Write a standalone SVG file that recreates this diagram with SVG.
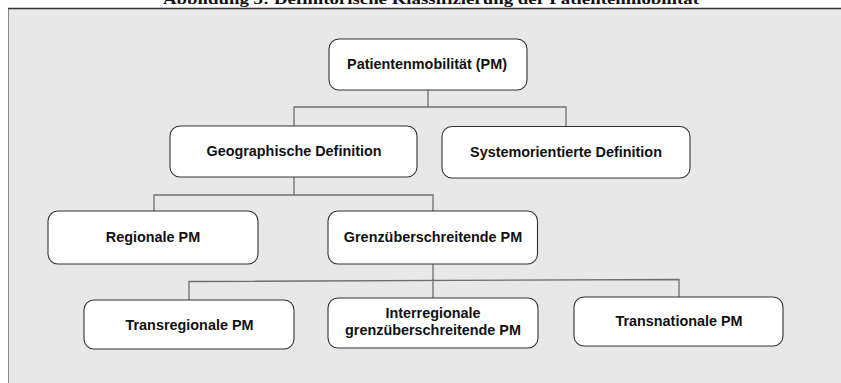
<svg xmlns="http://www.w3.org/2000/svg" width="841" height="383" viewBox="0 0 841 383">
<style>
.box{fill:#ffffff;stroke:#333333;stroke-width:1.1}
.lbl{font-family:"Liberation Sans",Arial,sans-serif;font-weight:bold;font-size:14.4px;fill:#111111;text-anchor:middle}
.con{fill:none;stroke:#6e6e6e;stroke-width:1.3}
</style>
<rect x="0" y="0" width="841" height="383" fill="#ffffff"/>
<text x="431" y="3.5" font-family="'Liberation Serif','Times New Roman',serif" font-weight="bold" font-size="14.5" text-anchor="middle" fill="#111111" textLength="536" lengthAdjust="spacingAndGlyphs">Abbildung 3: Definitorische Klassifizierung der Patientenmobilität</text>
<rect x="8.5" y="8.5" width="840" height="380" fill="#e8e8e8" stroke="#8a8a8a" stroke-width="1"/>
<line x1="8" y1="8.5" x2="841" y2="8.5" stroke="#333333" stroke-width="1.6"/>
<g id="connectors">
<path class="con" d="M428 90 V107 M294 126 V107 H566 V126"/>
<path class="con" d="M294 177 V195 M154 211 V195 H433 V211"/>
<path class="con" d="M433 264 V298 M189 300 V281.5 L679 279.5 V297"/>
</g>
<g id="n-root">
<rect class="box" x="329" y="39" width="198" height="51" rx="10"/>
<text class="lbl" x="427" y="69">Patientenmobilität (PM)</text>
</g>
<g id="n-geo">
<rect class="box" x="170" y="126" width="247" height="51" rx="10"/>
<text class="lbl" x="294" y="156">Geographische Definition</text>
</g>
<g id="n-sys">
<rect class="box" x="442" y="126.5" width="248" height="51.5" rx="10"/>
<text class="lbl" x="566" y="157">Systemorientierte Definition</text>
</g>
<g id="n-reg">
<rect class="box" x="48" y="211" width="210" height="53" rx="10"/>
<text class="lbl" x="153" y="242">Regionale PM</text>
</g>
<g id="n-grenz">
<rect class="box" x="328" y="211" width="209.5" height="53" rx="10"/>
<text class="lbl" x="433" y="242">Grenzüberschreitende PM</text>
</g>
<g id="n-transreg">
<rect class="box" x="84" y="300" width="210" height="49" rx="10"/>
<text class="lbl" x="189.5" y="329.5">Transregionale PM</text>
</g>
<g id="n-interreg">
<rect class="box" x="328" y="298" width="210" height="50" rx="10"/>
<text class="lbl" x="433" y="318">Interregionale</text>
<text class="lbl" x="433" y="335">grenzüberschreitende PM</text>
</g>
<g id="n-transnat">
<rect class="box" x="574" y="297" width="209" height="49" rx="10"/>
<text class="lbl" x="679" y="326">Transnationale PM</text>
</g>
</svg>
